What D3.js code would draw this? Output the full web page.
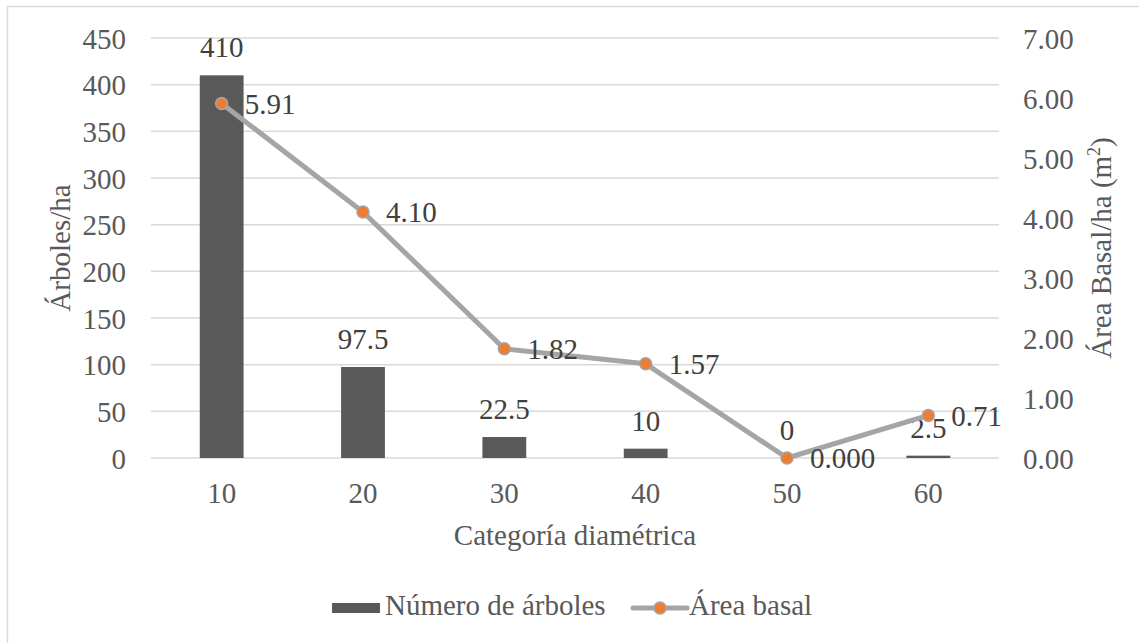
<!DOCTYPE html>
<html>
<head>
<meta charset="utf-8">
<script src="https://cdn.jsdelivr.net/npm/d3@7"></script>
<style>
  html, body { margin: 0; padding: 0; background: #fff; }
  svg { display: block; }
  svg text { font-family: "Liberation Serif", Tinos, "Times New Roman", serif !important; }
</style>
</head>
<body>
<svg id="chart" width="1139" height="643"></svg>
<script>
// Diameter classes and stand values per hectare
const categories = ["10", "20", "30", "40", "50", "60"];
const treesPerHa = [410, 97.5, 22.5, 10, 0, 2.5];
const basalArea = [5.91, 4.10, 1.82, 1.57, 0, 0.71];
const basalLabels = ["5.91", "4.10", "1.82", "1.57", "0.000", "0.71"];
const leftTicks = [0, 50, 100, 150, 200, 250, 300, 350, 400, 450];
const rightTicks = [0, 1, 2, 3, 4, 5, 6, 7];

const W = 1139, H = 643;
const plot = { left: 151, right: 999, top: 38, bottom: 458 };
const FONT = '"Liberation Serif", Tinos, "Times New Roman", serif';
const fontSize = "29px";
const axisColor = "#595959";
const labelColor = "#404040";
const gridColor = "#d9d9d9";
const barColor = "#595959";
const lineColor = "#a5a5a5";
const markerColor = "#ed7d31";

const svg = d3.select("#chart").style("font-family", FONT);

function styleText(sel, color) {
  return sel.style("font-family", FONT).style("font-size", fontSize).attr("fill", color);
}

// outer chart frame
svg.append("rect")
  .attr("x", 7.5).attr("y", 6.5)
  .attr("width", W).attr("height", H)
  .attr("fill", "none").attr("stroke", gridColor).attr("stroke-width", 1.5);

const x = d3.scaleBand()
  .domain(categories)
  .range([plot.left, plot.right])
  .paddingInner(0.69)
  .paddingOuter(0.345);

const yL = d3.scaleLinear().domain([0, 450]).range([plot.bottom, plot.top]);
const yR = d3.scaleLinear().domain([0, 7]).range([plot.bottom, plot.top]);

// gridlines
svg.append("g").selectAll("line").data(leftTicks).join("line")
  .attr("x1", plot.left).attr("x2", plot.right)
  .attr("y1", d => yL(d)).attr("y2", d => yL(d))
  .attr("stroke", gridColor).attr("stroke-width", 1.5);

// left axis tick labels
const leftAxis = d3.axisLeft(yL).tickValues(leftTicks).tickSize(0).tickPadding(0);
const gL = svg.append("g").attr("transform", "translate(126,0)").call(leftAxis);
gL.attr("font-family", null).attr("font-size", null);
gL.select(".domain").remove();
styleText(gL.selectAll("text"), axisColor).attr("dy", "0.35em");

// right axis tick labels
const rightAxis = d3.axisRight(yR).tickValues(rightTicks).tickFormat(d3.format(".2f")).tickSize(0).tickPadding(0);
const gR = svg.append("g").attr("transform", "translate(1023,0)").call(rightAxis);
gR.attr("font-family", null).attr("font-size", null);
gR.select(".domain").remove();
styleText(gR.selectAll("text"), axisColor).attr("dy", "0.35em");

// category axis labels
const bottomAxis = d3.axisBottom(x).tickSize(0).tickPadding(0);
const gB = svg.append("g").attr("transform", "translate(0,503)").call(bottomAxis);
gB.attr("font-family", null).attr("font-size", null);
gB.select(".domain").remove();
styleText(gB.selectAll("text"), axisColor).attr("dy", 0);

// bars
const rows = categories.map((c, i) => ({ c, n: treesPerHa[i], b: basalArea[i], bl: basalLabels[i] }));
svg.append("g").selectAll("rect").data(rows).join("rect")
  .attr("x", d => x(d.c))
  .attr("width", x.bandwidth())
  .attr("y", d => yL(d.n))
  .attr("height", d => yL(0) - yL(d.n))
  .attr("fill", barColor);

// bar value labels
styleText(svg.append("g").selectAll("text").data(rows).join("text"), labelColor)
  .attr("x", d => x(d.c) + x.bandwidth() / 2)
  .attr("y", d => yL(d.n) - 18)
  .attr("text-anchor", "middle")
  .text(d => d.n);

// basal area line
const cx = d => x(d.c) + x.bandwidth() / 2;
const line = d3.line().x(cx).y(d => yR(d.b));
svg.append("path").datum(rows)
  .attr("d", line)
  .attr("fill", "none").attr("stroke", lineColor)
  .attr("stroke-width", 5).attr("stroke-linejoin", "round");

svg.append("g").selectAll("circle").data(rows).join("circle")
  .attr("cx", cx).attr("cy", d => yR(d.b)).attr("r", 6)
  .attr("fill", markerColor).attr("stroke", lineColor).attr("stroke-width", 1.5);

styleText(svg.append("g").selectAll("text").data(rows).join("text"), labelColor)
  .attr("x", d => cx(d) + 23)
  .attr("y", d => yR(d.b))
  .attr("dy", "0.35em")
  .text(d => d.bl);

// axis titles
styleText(svg.append("text"), axisColor)
  .attr("transform", "translate(70,248) rotate(-90)")
  .attr("text-anchor", "middle")
  .text("Árboles/ha");

const rt = styleText(svg.append("text"), axisColor)
  .attr("transform", "translate(1111,248) rotate(-90)")
  .attr("text-anchor", "middle");
rt.append("tspan").text("Área Basal/ha (m");
rt.append("tspan").style("font-size", "18px").attr("dy", -11).text("2");
rt.append("tspan").attr("dy", 11).text(")");

styleText(svg.append("text"), axisColor)
  .attr("x", (plot.left + plot.right) / 2).attr("y", 545)
  .attr("text-anchor", "middle")
  .text("Categoría diamétrica");

// legend
const lg = svg.append("g");
lg.append("rect").attr("x", 332).attr("y", 603).attr("width", 48).attr("height", 10).attr("fill", barColor);
styleText(lg.append("text"), axisColor).attr("x", 385).attr("y", 615).text("Número de árboles");
lg.append("line").attr("x1", 633).attr("x2", 687).attr("y1", 608).attr("y2", 608)
  .attr("stroke", lineColor).attr("stroke-width", 5).attr("stroke-linecap", "round");
lg.append("circle").attr("cx", 660).attr("cy", 608).attr("r", 6)
  .attr("fill", markerColor).attr("stroke", lineColor).attr("stroke-width", 1.5);
styleText(lg.append("text"), axisColor).attr("x", 689).attr("y", 615).text("Área basal");
</script>
</body>
</html>
